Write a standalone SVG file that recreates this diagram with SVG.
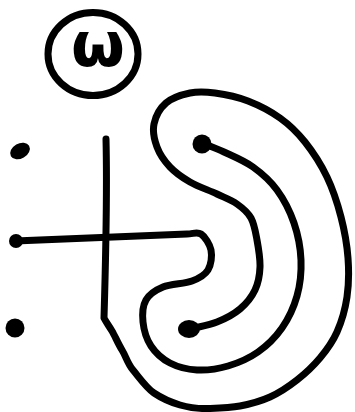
<svg xmlns="http://www.w3.org/2000/svg" width="355" height="412" viewBox="0 0 355 412">
<style>
.ln{fill:none;stroke:#000;stroke-width:7;stroke-linecap:round;stroke-linejoin:round}
.dot{fill:#000}
</style>
<rect width="355" height="412" fill="#fff"/>
<g id="omega-node">
<ellipse class="ln" cx="93" cy="54" rx="45" ry="41.5"/>
<text x="98" y="66" text-anchor="middle" font-family="DejaVu Sans, sans-serif" font-weight="bold" font-size="62">ω</text>
</g>
<g id="dot-left-top"><ellipse class="dot" cx="20" cy="151" rx="10.5" ry="7.5" transform="rotate(-30 20 151)"/></g>
<g id="dot-left-bottom"><circle class="dot" cx="15" cy="328" r="9.5"/></g>
<g id="connectors">
<path class="ln" d="M15,241 L187,234 C193,234 197,231.3 201,234 S209.8,244 211,250 S211.2,264.8 208,270 S199.5,278.2 192,281 S170.7,283.8 163,287 S149.3,294.2 146,300 S142.2,314.3 143,322 S146.5,339.2 151,346 S162.3,359 170,363 S187.3,369.5 197,370 S217.8,369 228,366 S249,358.3 258,352 S275.5,337.3 282,328 S293.8,307.3 297,296 S301.5,272.2 301,260 S298,234.7 294,223 S283.8,199.3 277,190 S261.8,173.3 253,167 S232.5,156 224,152 S205.7,144.5 202,143"/>
<path class="ln" d="M106,139 C107,180 106,250 104,318 C106,322 109,326 112,331 S117.7,343 122,350 S127.3,363.2 133,370 S146.3,387.8 154,393 S171,402.3 180,405 S198,408.8 208,408.5 S229.7,408 240,406 S260.5,401.3 270,397 S288.7,386.5 297,380 S313.3,366 320,358 S332.5,342.2 337,332 S345.2,309.3 347,297 S349,271.3 348,258 S344.5,230.5 341,217 S333,189.5 327,177 S312.8,151.8 305,142 S289.5,124.8 280,118 S258.8,105.2 248,101 S224.7,94.3 215,93 S198.2,91.3 190,93 S172,97.8 166,103 S155.5,116.7 154,124 S154.3,139.8 157,147 S164.5,161.2 170,167 S182.2,177.5 190,182 S209.2,190.3 217,194 S231.3,200 237,204 S247.7,212 251,218 S255.5,231.8 257,240 S260.3,258.7 260,267 S258.3,283 255,290 S246.3,303.7 240,309 S225.3,318.7 217,322 S199,326.7 190,329"/>
</g>
<g id="dot-start"><circle class="dot" cx="16" cy="241" r="7"/></g>
<g id="dot-top-inner"><circle class="dot" cx="202" cy="144" r="9.5"/></g>
<g id="dot-bottom-inner"><ellipse class="dot" cx="189" cy="329" rx="11" ry="9"/></g>
</svg>
